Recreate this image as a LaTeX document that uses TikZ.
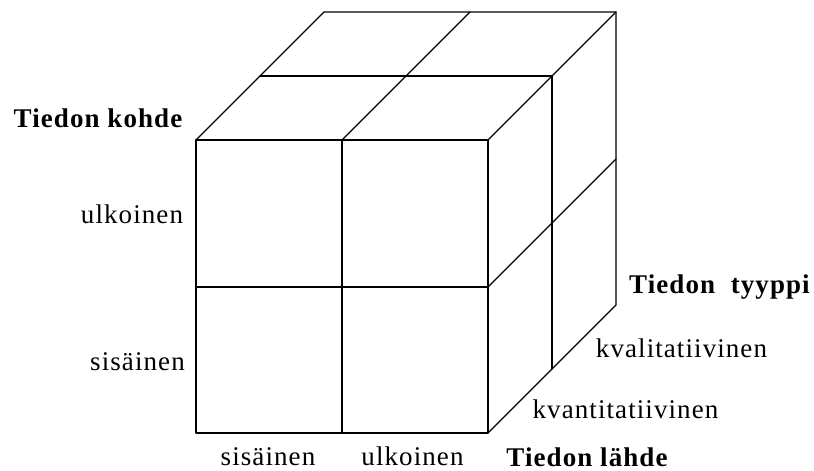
\documentclass[tikz,border=0pt]{standalone}
\usepackage{fontspec}
\setmainfont{Liberation Serif}[LetterSpace=4]
\begin{document}
\begin{tikzpicture}[x=1pt,y=-1pt,
  edge/.style={line width=1.3pt,line cap=round,line join=round},
  lbl/.style={font=\fontsize{27}{30}\selectfont,inner sep=0pt,anchor=base},
  blbl/.style={font=\fontsize{27}{30}\selectfont\bfseries,inner sep=0pt,anchor=base}]
\useasboundingbox (0,0) rectangle (814,471);
% front face corners
\coordinate (a00) at (196,140);
\coordinate (a10) at (342,140);
\coordinate (a20) at (488,140);
\coordinate (a01) at (196,287);
\coordinate (a21) at (488,287);
\coordinate (a02) at (196,433);
\coordinate (a12) at (342,433);
\coordinate (a22) at (488,433);
% middle depth
\coordinate (b00) at (260,76);
\coordinate (b20) at (552,76);
\coordinate (b22) at (552,369);
% back
\coordinate (c00) at (324,12);
\coordinate (c10) at (470,12);
\coordinate (c20) at (616,12);
\coordinate (c21) at (616,159);
\coordinate (c22) at (616,305);
% front face
\draw[edge] (a00) rectangle (a22);
\draw[edge] (a10) -- (a12);
\draw[edge] (a01) -- (a21);
% top face
\draw[edge] (a00) -- (c00) -- (c20);
\draw[edge] (a10) -- (c10);
\draw[edge] (a20) -- (c20);
\draw[edge] (b00) -- (b20);
% right face
\draw[edge] (c20) -- (c22) -- (a22);
\draw[edge] (b20) -- (b22);
\draw[edge] (a21) -- (c21);
% labels
\node[blbl] (tk) at (98,127) {Tiedon kohde};
\node[lbl] (ul) at (132,223) {ulkoinen};
\node[lbl] (si) at (137.5,370) {sisäinen};
\node[lbl] (bs) at (268,465) {sisäinen};
\node[lbl] (bu) at (412.5,465) {ulkoinen};
\node[blbl] (tl) at (587,466) {Tiedon lähde};
\node[blbl] (tt) at (719.5,293) {Tiedon\ \ tyyppi};
\node[lbl] (kl) at (681.5,357) {kvalitatiivinen};
\node[lbl] (kn) at (625.5,418) {kvantitatiivinen};
\end{tikzpicture}
\end{document}
